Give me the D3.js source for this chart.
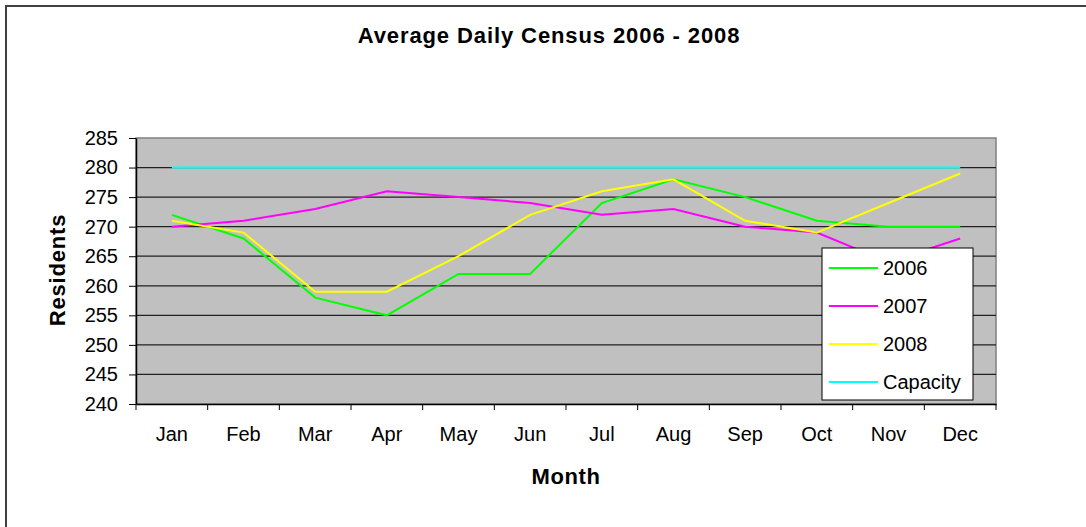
<!DOCTYPE html>
<html>
<head>
<meta charset="utf-8">
<script src="https://cdn.jsdelivr.net/npm/d3@7"></script>
<style>
    body { margin: 0; background: #fff; }
    svg { display: block; font-family: "Liberation Sans", Arial, sans-serif; }
</style>
</head>
<body>
<div id="chart"></div>
<script>
const months = ['Jan', 'Feb', 'Mar', 'Apr', 'May', 'Jun', 'Jul', 'Aug', 'Sep', 'Oct', 'Nov', 'Dec'];
const census2006 = [272, 268, 258, 255, 262, 262, 274, 278, 275, 271, 270, 270];
const census2007 = [270, 271, 273, 276, 275, 274, 272, 273, 270, 269, 264, 268];
const census2008 = [271, 269, 259, 259, 265, 272, 276, 278, 271, 269, 274, 279];
const capacity = [280, 280, 280, 280, 280, 280, 280, 280, 280, 280, 280, 280];
const yTicks = [240, 245, 250, 255, 260, 265, 270, 275, 280, 285];

const series = [
    { name: '2006', values: census2006, color: '#00ff00' },
    { name: '2007', values: census2007, color: '#ff00ff' },
    { name: '2008', values: census2008, color: '#ffff00' },
    { name: 'Capacity', values: capacity, color: '#00ffff' },
];

const width = 1086, height = 527;
const plot = { left: 136, right: 996, top: 138, bottom: 404 };

const svg = d3.select('#chart').append('svg')
    .attr('width', width)
    .attr('height', height);

// chart area frame
svg.append('rect')
    .attr('x', 6).attr('y', 6)
    .attr('width', 1200).attr('height', 700)
    .attr('fill', '#fff')
    .attr('stroke', '#404040')
    .attr('stroke-width', 2);

const x = d3.scaleBand().domain(months).range([plot.left, plot.right]).padding(0);
const y = d3.scaleLinear().domain([240, 285]).range([plot.bottom, plot.top]);
const cx = (m) => x(m) + x.bandwidth() / 2;

// plot area
svg.append('rect')
    .attr('x', plot.left).attr('y', plot.top)
    .attr('width', plot.right - plot.left).attr('height', plot.bottom - plot.top)
    .attr('fill', '#c0c0c0')
    .attr('stroke', '#808080')
    .attr('stroke-width', 1.5);

// gridlines
svg.append('g').selectAll('line')
    .data(yTicks.filter((t) => t > 240 && t < 285))
    .enter().append('line')
    .attr('x1', plot.left).attr('x2', plot.right)
    .attr('y1', (d) => y(d)).attr('y2', (d) => y(d))
    .attr('stroke', '#202020')
    .attr('stroke-width', 1.2);

// y axis
const yAxis = svg.append('g')
    .attr('transform', `translate(${plot.left},0)`)
    .call(d3.axisLeft(y).tickValues(yTicks).tickSize(7).tickPadding(11).tickSizeOuter(0));
yAxis.select('.domain').attr('stroke', '#000').attr('stroke-width', 1.5);
yAxis.selectAll('.tick line').attr('stroke', '#000');
yAxis.selectAll('text').style('font-size', '20px').attr('fill', '#000');

// x axis: labels centred in categories, ticks on category boundaries
const xAxis = svg.append('g')
    .attr('transform', `translate(0,${plot.bottom})`)
    .call(d3.axisBottom(x).tickSize(0).tickPadding(23).tickSizeOuter(0));
xAxis.select('.domain').attr('stroke', '#000').attr('stroke-width', 1.5);
xAxis.selectAll('text').style('font-size', '20px').attr('fill', '#000');

const bounds = months.map((m) => x(m)).concat([plot.right]);
svg.append('g').selectAll('line')
    .data(bounds)
    .enter().append('line')
    .attr('x1', (d) => d).attr('x2', (d) => d)
    .attr('y1', plot.bottom).attr('y2', plot.bottom + 6)
    .attr('stroke', '#000');

// lines
const line = d3.line()
    .x((d, i) => cx(months[i]))
    .y((d) => y(d));

svg.append('g').selectAll('path')
    .data(series)
    .enter().append('path')
    .attr('fill', 'none')
    .attr('stroke', (d) => d.color)
    .attr('stroke-width', 2)
    .attr('d', (d) => line(d.values));

// titles
svg.append('text')
    .attr('x', 549).attr('y', 43)
    .attr('text-anchor', 'middle')
    .style('font-size', '22px')
    .style('font-weight', 'bold')
    .style('letter-spacing', '0.9px')
    .text('Average Daily Census 2006 - 2008');

svg.append('text')
    .attr('x', 566).attr('y', 484)
    .attr('text-anchor', 'middle')
    .style('font-size', '22px')
    .style('font-weight', 'bold')
    .style('letter-spacing', '0.6px')
    .text('Month');

svg.append('text')
    .attr('transform', 'translate(65,270) rotate(-90)')
    .attr('text-anchor', 'middle')
    .style('font-size', '22px')
    .style('font-weight', 'bold')
    .style('letter-spacing', '0.8px')
    .text('Residents');

// legend
const legend = svg.append('g').attr('transform', 'translate(822,248)');
legend.append('rect')
    .attr('width', 151).attr('height', 152)
    .attr('fill', '#fff')
    .attr('stroke', '#000')
    .attr('stroke-width', 1);

const item = legend.selectAll('.item')
    .data(series)
    .enter().append('g')
    .attr('class', 'item')
    .attr('transform', (d, i) => `translate(0,${20 + i * 38})`);
item.append('line')
    .attr('x1', 7).attr('x2', 56)
    .attr('stroke', (d) => d.color)
    .attr('stroke-width', 2);
item.append('text')
    .attr('x', 61).attr('y', 7)
    .style('font-size', '20px')
    .text((d) => d.name);
</script>
</body>
</html>
